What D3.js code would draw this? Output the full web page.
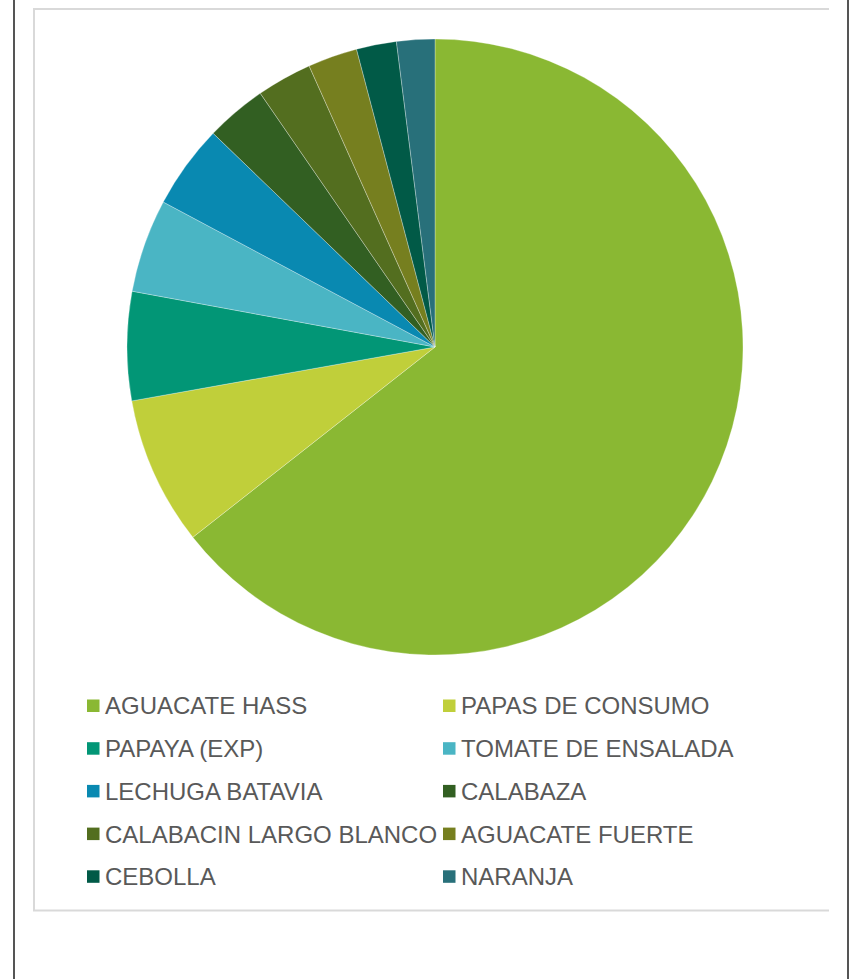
<!DOCTYPE html>
<html>
<head>
<meta charset="utf-8">
<script src="https://cdn.jsdelivr.net/npm/d3@7"></script>
<style>
  html, body { margin: 0; padding: 0; background: #fff; }
  svg { display: block; }
</style>
</head>
<body>
<svg id="chart"></svg>
<script>
// share of each product (%)
const categories = ['AGUACATE HASS', 'PAPAS DE CONSUMO', 'PAPAYA (EXP)', 'TOMATE DE ENSALADA',
  'LECHUGA BATAVIA', 'CALABAZA', 'CALABACIN LARGO BLANCO', 'AGUACATE FUERTE', 'CEBOLLA', 'NARANJA'];
const values = [64.4, 7.8, 5.7, 4.9, 4.4, 3.2, 2.9, 2.6, 2.1, 2.0];
const colors = ['#8ab833', '#c0cf3a', '#029676', '#4ab5c4', '#0989b1',
  '#325f22', '#536e1f', '#767f1f', '#015a47', '#28707a'];

const W = 854, H = 979;
const svg = d3.select('#chart').attr('width', W).attr('height', H);

// page side rules
svg.append('rect').attr('x', 13).attr('y', 0).attr('width', 2).attr('height', H).attr('fill', '#555');
svg.append('rect').attr('x', 847).attr('y', 0).attr('width', 2).attr('height', H).attr('fill', '#555');

// chart frame (cut off on the right like the source)
svg.append('path')
    .attr('d', 'M829,9 H34 V910.5 H829')
    .attr('fill', 'none')
    .attr('stroke', '#d9d9d9')
    .attr('stroke-width', 2);

const cx = 435, cy = 347, r = 308;

const pie = d3.pie().sort(null).value(d => d.value);
const arc = d3.arc().innerRadius(0).outerRadius(r);
const data = categories.map((c, i) => ({name: c, value: values[i], color: colors[i]}));

svg.append('g')
    .attr('transform', `translate(${cx},${cy})`)
  .selectAll('path')
    .data(pie(data))
  .join('path')
    .attr('d', arc)
    .attr('fill', d => d.data.color)
    .attr('stroke', '#fff')
    .attr('stroke-width', 0.3);

// legend: two columns
const colX = [87, 443];
const rowY0 = 706, rowStep = 42.7;

const items = svg.append('g').attr('class', 'legend')
  .selectAll('g')
    .data(data)
  .join('g')
    .attr('transform', (d, i) => `translate(${colX[i % 2]},${rowY0 + Math.floor(i / 2) * rowStep})`);

items.append('rect')
    .attr('x', 0).attr('y', -6.5)
    .attr('width', 12.5).attr('height', 12.5)
    .attr('fill', d => d.color);

items.append('text')
    .attr('x', 18)
    .attr('y', 0)
    .attr('dy', '0.35em')
    .attr('font-family', '"Liberation Sans", Arial, sans-serif')
    .attr('font-size', 24)
    .attr('fill', '#595959')
    .text(d => d.name);
</script>
</body>
</html>
